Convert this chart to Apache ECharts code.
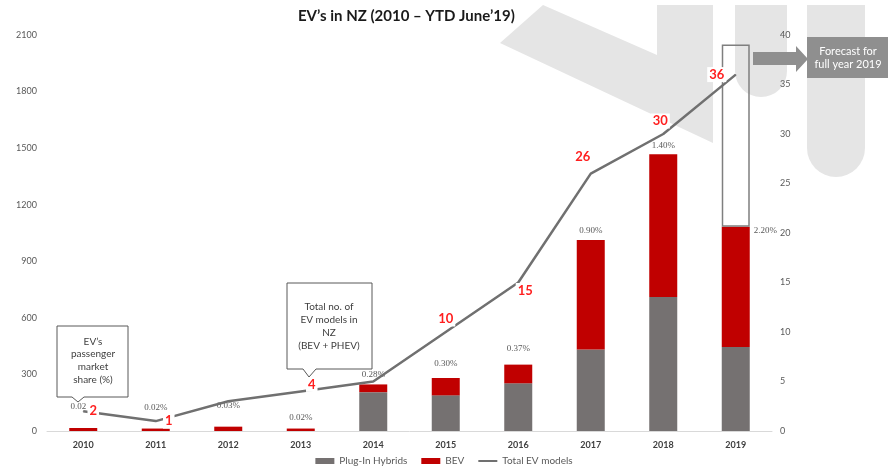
<!DOCTYPE html>
<html>
<head>
<meta charset="utf-8">
<title>EV's in NZ</title>
<script src="https://cdn.jsdelivr.net/npm/echarts@6/dist/echarts.min.js"></script>
<style>
    html, body { margin: 0; padding: 0; background: #fff; }
    #evChart { width: 888px; height: 473px; }
</style>
</head>
<body>
<div id="evChart"></div>
<script>
var years = ['2010', '2011', '2012', '2013', '2014', '2015', '2016', '2017', '2018', '2019'];
var plugInHybrids = [0, 0, 0, 0, 206, 189, 253, 432, 711, 446];
var bev = [16, 13, 23, 13, 41, 92, 99, 581, 757, 637];
var forecast2019 = [null, null, null, null, null, null, null, null, null, 966];
var totalModels = [2, 1, 3, 4, 5, 10, 15, 26, 30, 36];
var marketShare = ['0.02', '0.02%', '0.03%', '0.02%', '0.28%', '0.30%', '0.37%', '0.90%', '1.40%', '2.20%'];
var leftTicks = [0, 2100, 300];
var rightTicks = [0, 40, 5];

evChartInit();

function evChartInit() {

    var chartDom = document.getElementById('evChart');
    var myChart = echarts.init(chartDom);
    var option;

    var font = 'Lato, "Open Sans", sans-serif';
    var watermark = '#e5e5e5';

    // where the share labels sit above each stack
    var shareDist = [17, 16, 17, 6, 5, 10, 11, 5, 4, 0];
    // where the red model counts sit around the line points
    var countOffset = [[10, 0], [13, 0], null, [11, -7], null, [0, -13], [7, 8], [-8, -17], [-3, -13], [-19, 0]];

    var bevData = bev.map(function (v, i) {
        var label = {
            show: true,
            formatter: marketShare[i],
            position: 'top',
            distance: shareDist[i]
        };
        if (i === 0) {
            label.offset = [-5, 0];
        }
        if (i === years.length - 1) {
            label.position = ['100%', 0];
            label.distance = 0;
            label.offset = [4, -1];
        }
        return { value: v, label: label };
    });

    var lineData = totalModels.map(function (v, i) {
        var off = countOffset[i];
        if (!off) {
            return { value: v, label: { show: false } };
        }
        return { value: v, label: { show: true, position: 'inside', offset: off } };
    });

    option = {
        animation: false,
        backgroundColor: '#fff',
        textStyle: { fontFamily: font },
        title: {
            text: 'EV’s in NZ (2010 – YTD June’19)',
            left: 293,
            top: 4,
            textStyle: { fontFamily: font, fontSize: 15, fontWeight: 'bold', color: '#1a1a1a' }
        },
        legend: {
            bottom: 2,
            left: 'center',
            itemWidth: 19,
            itemHeight: 6,
            itemGap: 14,
            textStyle: { fontFamily: font, fontSize: 10, color: '#595959' },
            data: [
                { name: 'Plug-In Hybrids', icon: 'rect' },
                { name: 'BEV', icon: 'rect' },
                { name: 'Total EV models', icon: 'path://M0,2 L19,2 L19,4 L0,4 Z' }
            ]
        },
        grid: {
            left: 47,
            right: 116,
            top: 35,
            bottom: 42
        },
        xAxis: {
            type: 'category',
            data: years,
            axisTick: { show: false },
            axisLine: { lineStyle: { color: '#d9d9d9', width: 1 } },
            axisLabel: { fontFamily: font, fontSize: 9, fontWeight: 'bold', color: '#404040', margin: 10 }
        },
        yAxis: [
            {
                type: 'value',
                min: leftTicks[0],
                max: leftTicks[1],
                interval: leftTicks[2],
                splitLine: { show: false },
                axisLine: { show: false },
                axisTick: { show: false },
                axisLabel: {
                    fontFamily: font,
                    fontSize: 9,
                    color: '#595959',
                    margin: 10,
                    formatter: function (v) { return String(v); }
                }
            },
            {
                type: 'value',
                min: rightTicks[0],
                max: rightTicks[1],
                interval: rightTicks[2],
                splitLine: { show: false },
                axisLine: { show: false },
                axisTick: { show: false },
                axisLabel: { fontFamily: font, fontSize: 9, color: '#595959', margin: 8 }
            }
        ],
        graphic: [
            // faint logo behind the plot
            {
                type: 'polygon',
                z: -10,
                shape: { points: [[543, 5], [657, 55], [657, 5], [713, 5], [713, 143], [500, 43]] },
                style: { fill: watermark }
            },
            {
                type: 'rect',
                z: -10,
                shape: { x: 735, y: 5, width: 52, height: 92, r: [0, 0, 26, 26] },
                style: { fill: watermark }
            },
            {
                type: 'rect',
                z: -10,
                shape: { x: 807, y: 5, width: 58, height: 172, r: [0, 0, 29, 29] },
                style: { fill: watermark }
            },
            // forecast arrow + box
            {
                type: 'polygon',
                z: 50,
                shape: { points: [[753, 52], [796, 52], [796, 46], [808, 59], [796, 72], [796, 65], [753, 65]] },
                style: { fill: '#8f8f8f' }
            },
            {
                type: 'rect',
                z: 50,
                shape: { x: 807, y: 37, width: 82, height: 41 },
                style: { fill: '#8f8f8f' }
            },
            {
                type: 'text',
                z: 51,
                x: 848,
                y: 45,
                style: {
                    text: 'Forecast for\nfull year 2019',
                    fill: '#fff',
                    font: '11px ' + font,
                    lineHeight: 13,
                    align: 'center'
                }
            },
            // callouts
            {
                type: 'polygon',
                z: 50,
                shape: { points: [[57, 326], [128, 326], [128, 397], [84, 397], [78, 402], [72, 397], [57, 397]] },
                style: { fill: '#fff', stroke: '#595959', lineWidth: 1 }
            },
            {
                type: 'text',
                z: 51,
                x: 93,
                y: 335,
                style: {
                    text: 'EV’s\npassenger\nmarket\nshare (%)',
                    fill: '#404040',
                    font: '10px ' + font,
                    lineHeight: 12.7,
                    align: 'center'
                }
            },
            {
                type: 'polygon',
                z: 50,
                shape: { points: [[287, 283], [372, 283], [372, 369], [316, 369], [309, 377], [303, 369], [287, 369]] },
                style: { fill: '#fff', stroke: '#595959', lineWidth: 1 }
            },
            {
                type: 'text',
                z: 51,
                x: 329,
                y: 300,
                style: {
                    text: 'Total no. of\nEV models in\nNZ\n(BEV + PHEV)',
                    fill: '#404040',
                    font: '10px ' + font,
                    lineHeight: 13,
                    align: 'center'
                }
            }
        ],
        series: [
            {
                name: 'Plug-In Hybrids',
                type: 'bar',
                stack: 'ev',
                barWidth: 28,
                itemStyle: { color: '#757171' },
                data: plugInHybrids
            },
            {
                name: 'BEV',
                type: 'bar',
                stack: 'ev',
                barWidth: 28,
                itemStyle: { color: '#c00000' },
                label: {
                    fontFamily: '"Liberation Serif", serif',
                    fontSize: 9,
                    color: '#595959'
                },
                data: bevData
            },
            {
                name: 'Forecast',
                type: 'bar',
                stack: 'ev',
                barWidth: 28,
                itemStyle: { color: 'transparent', borderColor: '#7f7f7f', borderWidth: 1.5 },
                data: forecast2019
            },
            {
                name: 'Total EV models',
                type: 'line',
                yAxisIndex: 1,
                z: 5,
                symbol: 'circle',
                symbolSize: 1,
                itemStyle: { color: '#707070' },
                lineStyle: { color: '#707070', width: 2.5 },
                label: {
                    fontFamily: font,
                    fontSize: 13,
                    fontWeight: 'bold',
                    color: '#ff1f1f',
                    backgroundColor: '#fff',
                    padding: [1, 2]
                },
                data: lineData
            }
        ]
    };

    option && myChart.setOption(option);

}
</script>
</body>
</html>
